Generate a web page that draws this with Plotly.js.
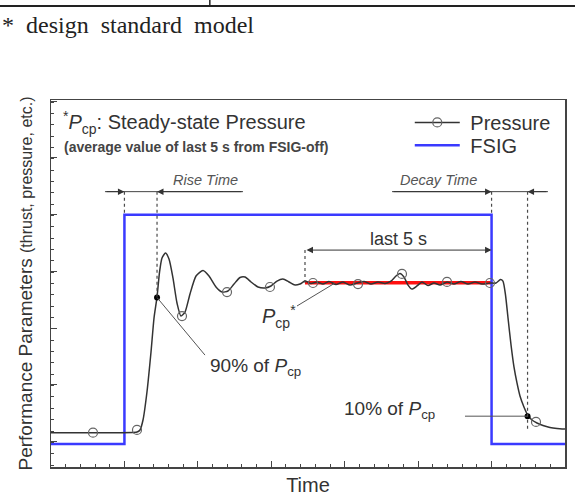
<!DOCTYPE html>
<html>
<head>
<meta charset="utf-8">
<script src="https://cdn.plot.ly/plotly-3.0.1.min.js"></script>
<style>
  html, body { margin: 0; padding: 0; background: #fff; }
  #chart { width: 575px; height: 498px; }
</style>
</head>
<body>
<div id="chart"></div>
<script>
// ---- Data (time in arbitrary units, pressure in % of steady-state Pcp) ----
const time = [0, 0.572, 1.171, 1.212, 1.253, 1.307, 1.362, 1.403, 1.444, 1.478, 1.512, 1.559, 1.607, 1.661, 1.716, 1.770, 1.825, 1.893, 1.975, 2.070, 2.152, 2.247, 2.329, 2.410, 2.492, 2.574, 2.642, 2.724, 2.819, 2.914, 2.996, 3.078, 3.159, 3.241, 3.323, 3.391, 3.459, 3.541, 3.622, 3.704, 3.786, 3.881, 3.977, 4.072, 4.167, 4.263, 4.358, 4.453, 4.548, 4.630, 4.698, 4.753, 4.807, 4.862, 4.916, 4.984, 5.052, 5.134, 5.216, 5.298, 5.393, 5.488, 5.583, 5.679, 5.774, 5.869, 5.978, 6.060, 6.121, 6.155, 6.190, 6.224, 6.265, 6.305, 6.346, 6.387, 6.441, 6.492, 6.550, 6.618, 6.700, 6.795, 6.891, 7.0];
const pressure = [-1.1, -1.1, -0.7, 0.7, 7.4, 26.3, 53.3, 76.2, 90.4, 107.2, 116.7, 120.0, 116.0, 103.2, 86.3, 77.5, 80.2, 92.4, 104.5, 108.2, 104.5, 97.1, 93.7, 94.4, 99.1, 103.5, 103.8, 100.5, 97.1, 96.4, 97.8, 101.1, 102.5, 100.5, 98.4, 99.1, 101.1, 99.5, 100.5, 99.1, 100.8, 98.8, 100.5, 98.4, 99.8, 100.8, 99.1, 100.5, 99.5, 101.1, 104.5, 106.2, 103.8, 98.4, 95.7, 97.8, 100.5, 98.1, 99.8, 98.4, 100.5, 99.1, 100.8, 99.1, 100.5, 99.1, 99.8, 99.8, 102.2, 101.1, 91.7, 76.2, 58.0, 43.2, 32.4, 23.6, 16.2, 10.8, 7.4, 5.4, 3.7, 2.4, 1.7, 1.3];

const markerTime = [0.572, 1.171, 1.784, 2.397, 2.982, 3.568, 4.181, 4.780, 5.393, 5.978, 6.605];
const markerPressure = [-1.1, 0.7, 77.5, 93.7, 97.1, 99.8, 99.1, 105.9, 100.5, 99.8, 6.1];

const fsigTime = [0, 1, 1, 6, 6, 7];
const fsigLevel = [-8.8, -8.8, 145.9, 145.9, -8.8, -8.8];

// steady-state average over the last 5 s before FSIG-off
const avgTime = [3.459, 6.0];
const avgLevel = [100, 100];

// key event times: FSIG-on, 90% Pcp, start of last 5 s, FSIG-off, 10% Pcp
const keyTimes = [1.0, 1.444, 3.459, 6.0, 6.49];
const keyLevels = [100, 90, 10];   // Pcp, 90% of Pcp, 10% of Pcp
const dotTime = [keyTimes[1], keyTimes[4]];
const dotLevel = [keyLevels[1], keyLevels[2]];

// ---- Styling helpers ----
const FONT = 'Liberation Sans, Arial, sans-serif';
const TXT = '#333';
const GUIDE = '#4a4a4a';
const yArrow = 161.4;      // level of the Rise/Decay time arrows
const yLast5 = 122.0;      // level of the "last 5 s" arrow
const fsigHigh = fsigLevel[2];

const traces = [
  { x: [null], y: [null], mode: 'lines+markers', name: '\u00a0Pressure', legend: 'legend',
    line: { color: '#333', width: 1.5 },
    marker: { symbol: 'circle-open', size: 9, color: '#666', line: { width: 1.2 } } },
  { x: avgTime, y: avgLevel, mode: 'lines', showlegend: false,
    line: { color: '#ff1010', width: 3.5 } },
  { x: fsigTime, y: fsigLevel, mode: 'lines', name: '\u00a0FSIG', legend: 'legend2',
    line: { color: '#3a3aff', width: 2.5 } },
  { x: time, y: pressure, mode: 'lines', showlegend: false,
    line: { color: '#333', width: 1.5, shape: 'spline', smoothing: 0.6 } },
  { x: markerTime, y: markerPressure, mode: 'markers', showlegend: false,
    marker: { symbol: 'circle-open', size: 9, color: '#666', line: { width: 1.2 } } },
  { x: dotTime, y: dotLevel, mode: 'markers', showlegend: false,
    marker: { symbol: 'circle', size: 6, color: '#000' } }
];

function vdash(x, y0, y1) {
  return { type: 'line', xref: 'x', yref: 'y', x0: x, x1: x, y0: y0, y1: y1,
           line: { color: GUIDE, width: 1.2, dash: '3px,3px' } };
}
function seg(x0, y0, x1, y1, color) {
  return { type: 'line', xref: 'x', yref: 'y', x0: x0, x1: x1, y0: y0, y1: y1,
           line: { color: color || '#555', width: 1 } };
}
function arrow(xHead, xTail, y, both) {
  return { xref: 'x', yref: 'y', axref: 'x', ayref: 'y', x: xHead, y: y, ax: xTail, ay: y,
           text: '', showarrow: true, arrowhead: 2, arrowsize: 1.3, arrowwidth: 1,
           arrowcolor: '#333', standoff: 0, startstandoff: 0,
           arrowside: both ? 'end+start' : 'end', startarrowhead: 2, startarrowsize: 1.3 };
}
function label(text, x, y, size, opts) {
  return Object.assign({ xref: 'x', yref: 'y', x: x, y: y, text: text, showarrow: false,
           font: { family: FONT, size: size, color: TXT } }, opts || {});
}

const shapes = [
  vdash(keyTimes[0], yArrow, fsigHigh),
  vdash(keyTimes[1], yArrow, keyLevels[1]),
  vdash(keyTimes[2], yLast5, keyLevels[0]),
  vdash(keyTimes[3], yArrow, fsigHigh),
  vdash(keyTimes[4], yArrow, 0),
  // continuous dimension lines behind the arrowheads
  seg(0.735, yArrow, 2.615, yArrow, '#444'),
  seg(4.644, yArrow, 6.768, yArrow, '#444'),
  // leader lines
  seg(keyTimes[1], keyLevels[1], 2.097, 51.2),
  seg(3.868, 99.8, 3.350, 84.3),
  seg(5.638, keyLevels[2], keyTimes[4], keyLevels[2]),
  // table rule from the surrounding page
  { type: 'line', xref: 'paper', yref: 'paper', x0: -0.1, x1: 1.02, y0: 1.256, y1: 1.256,
    line: { color: '#222', width: 2 } },
  { type: 'line', xref: 'paper', yref: 'paper', x0: 0.309, x1: 0.309, y0: 1.256, y1: 1.28,
    line: { color: '#222', width: 1.5 } }
];

const annotations = [
  arrow(keyTimes[0], 0.735, yArrow),
  arrow(keyTimes[1], 2.615, yArrow),
  arrow(keyTimes[3], 4.644, yArrow),
  arrow(keyTimes[4], 6.768, yArrow),
  arrow(keyTimes[3], keyTimes[2], yLast5, true),
  label('<i>Rise Time</i>', 2.104, 169.3, 14.5, { font: { family: FONT, size: 14.5, color: '#555' } }),
  label('<i>Decay Time</i>', 5.277, 169.3, 14.5, { font: { family: FONT, size: 14.5, color: '#555' } }),
  label('last 5 s', 4.726, 129.8, 18),
  label('90% of <i>P</i><sub>cp</sub>', 2.138, 43.2, 19, { xanchor: 'left' }),
  label('10% of <i>P</i><sub>cp</sub>', 5.257, 14.2, 19, { xanchor: 'right' }),
  label('<i>P</i><sub>cp</sub><sup>*</sup>', 3.364, 77.1, 20, { xanchor: 'right' }),
  { xref: 'paper', yref: 'paper', x: 0.0195, y: 0.94, xanchor: 'left', yanchor: 'middle',
    showarrow: false, text: '<sup>*</sup><i>P</i><sub>cp</sub>: Steady-state Pressure',
    font: { family: FONT, size: 20, color: TXT } },
  { xref: 'paper', yref: 'paper', x: 0.0214, y: 0.872, xanchor: 'left', yanchor: 'middle',
    showarrow: false, text: '<b>(average value of last 5 s from FSIG-off)</b>',
    font: { family: FONT, size: 14, color: '#444' } },
  { xref: 'paper', yref: 'paper', x: -0.0992, y: 1.204, xanchor: 'left', yanchor: 'middle',
    showarrow: false, text: '*\u00a0 design\u00a0 standard\u00a0 model',
    font: { family: 'Liberation Serif, Times New Roman, serif', size: 24, color: '#222' } }
];

const legendStyle = { xanchor: 'left', yanchor: 'top', bgcolor: 'rgba(0,0,0,0)',
  font: { family: FONT, size: 20, color: TXT }, itemwidth: 45, tracegroupgap: 0 };

const layout = {
  width: 575, height: 498,
  margin: { l: 51, r: 10, t: 100, b: 31, pad: 0 },
  paper_bgcolor: '#fff', plot_bgcolor: '#fff',
  showlegend: true,
  legend: Object.assign({ x: 0.698, y: 0.992 }, legendStyle),
  legend2: Object.assign({ x: 0.698, y: 0.930 }, legendStyle),
  xaxis: {
    range: [0, 7], showgrid: false, zeroline: false, showline: true, mirror: true,
    linecolor: '#444', linewidth: 1.5, ticks: 'inside', ticklen: 6, tickcolor: '#444',
    dtick: 1, tick0: 0, showticklabels: false,
    minor: { dtick: 0.2, ticks: 'inside', ticklen: 3, tickcolor: '#444', showgrid: false },
    title: { text: 'Time', font: { family: FONT, size: 20, color: TXT }, standoff: 10 }
  },
  yaxis: {
    range: [-24.27, 223.2], showgrid: false, zeroline: false, showline: true, mirror: true,
    linecolor: '#444', linewidth: 1.5, ticks: 'inside', ticklen: 6, tickcolor: '#444',
    tick0: 145.9, dtick: 38.23, showticklabels: false,
    minor: { dtick: 7.646, ticks: 'inside', ticklen: 3, tickcolor: '#444', showgrid: false },
    title: { text: 'Performance Parameters <span style="font-size:16px">(thrust, pressure, etc.)</span>',
             font: { family: FONT, size: 19, color: TXT }, standoff: 12 }
  },
  shapes: shapes,
  annotations: annotations
};

Plotly.newPlot('chart', traces, layout, { displayModeBar: false, staticPlot: true });
</script>
</body>
</html>
